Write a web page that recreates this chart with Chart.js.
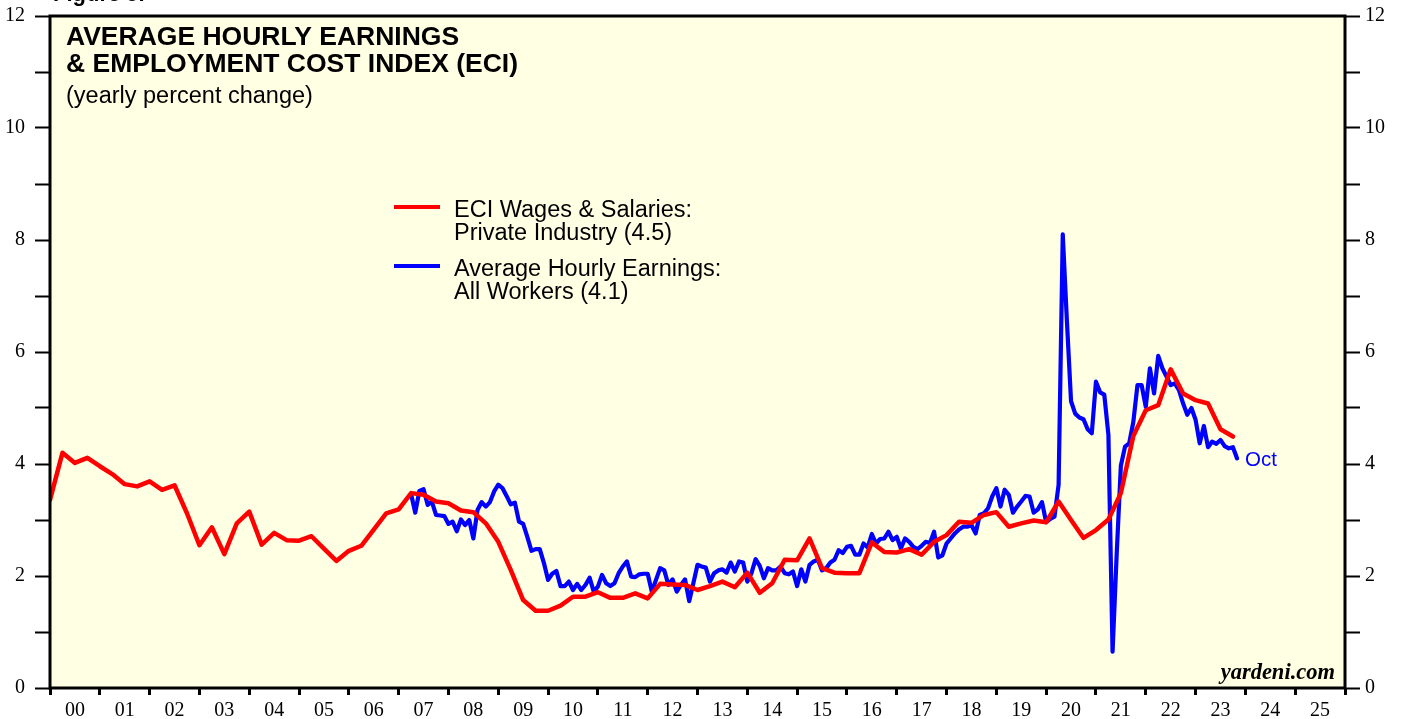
<!DOCTYPE html>
<html>
<head>
<meta charset="utf-8">
<script src="https://cdn.jsdelivr.net/npm/chart.js@4/dist/chart.umd.min.js"></script>
<style>
html,body{margin:0;padding:0;background:#ffffff;}
#wrap{width:1405px;height:719px;position:relative;}
canvas{display:block;}
</style>
</head>
<body>
<div id="wrap"><canvas id="c" width="1405" height="719"></canvas></div>
<script>
// ---------------- DATA ----------------
// ECI wages & salaries, private industry (y/y %), quarterly, plotted at quarter end
const eciStartYear = 2000.0;
const eciStep = 0.25;
const eciValues = [
  3.36, 4.20, 4.02, 4.11, 3.96, 3.82, 3.64, 3.60, 3.69, 3.54,
  3.62, 3.12, 2.55, 2.87, 2.39, 2.94, 3.15, 2.56, 2.77, 2.64,
  2.63, 2.71, 2.49, 2.27, 2.45, 2.54, 2.83, 3.12, 3.19, 3.48,
  3.45, 3.33, 3.30, 3.17, 3.14, 2.94, 2.61, 2.11, 1.57, 1.38,
  1.38, 1.47, 1.63, 1.63, 1.71, 1.61, 1.61, 1.69, 1.60, 1.86,
  1.85, 1.84, 1.75, 1.82, 1.90, 1.80, 2.06, 1.70, 1.87, 2.29,
  2.28, 2.67, 2.14, 2.06, 2.05, 2.05, 2.60, 2.43, 2.42, 2.48,
  2.38, 2.61, 2.73, 2.97, 2.95, 3.09, 3.14, 2.88, 2.94, 2.99,
  2.96, 3.33, 3.00, 2.68, 2.82, 3.01, 3.48, 4.50, 4.96, 5.05,
  5.69, 5.26, 5.14, 5.08, 4.62, 4.49
];

// Average hourly earnings, all workers (y/y %), monthly from Mar 2007, plotted at month end
const aheStartYear = 2007.25;
const aheStep = 1 / 12;
const aheValues = [
  3.46, 3.13, 3.52, 3.55, 3.27, 3.33, 3.09, 3.08, 3.07, 2.93,
  2.97, 2.80, 3.01, 2.91, 3.00, 2.67, 3.18, 3.32, 3.24, 3.32,
  3.51, 3.63, 3.57, 3.43, 3.28, 3.31, 2.97, 2.93, 2.70, 2.45,
  2.48, 2.48, 2.23, 1.93, 2.04, 2.09, 1.82, 1.82,
  1.90, 1.75, 1.86, 1.75, 1.84, 1.97, 1.72, 1.81, 2.02, 1.87,
  1.82, 1.87, 2.05, 2.17, 2.26, 1.99, 1.98, 2.03, 2.04, 2.04,
  1.72, 1.93, 2.14, 2.10, 1.84, 1.94, 1.72, 1.84, 1.94, 1.55,
  1.87, 2.20, 2.17, 2.15, 1.90, 2.05, 2.10, 2.12,
  2.06, 2.24, 2.08, 2.26, 2.24, 1.90, 2.05, 2.30, 2.18, 1.96,
  2.14, 2.10, 2.10, 2.17, 2.05, 2.03, 2.08, 1.82, 2.12, 1.90,
  2.20, 2.26, 2.29, 2.10, 2.14, 2.24, 2.29, 2.46, 2.41, 2.52,
  2.54, 2.38, 2.38, 2.58, 2.51, 2.75, 2.58, 2.66, 2.67,
  2.79, 2.64, 2.70, 2.49, 2.67, 2.61, 2.52, 2.48, 2.54, 2.61,
  2.59, 2.79, 2.33, 2.37, 2.58, 2.67, 2.76, 2.83, 2.88, 2.88,
  2.91, 2.76, 3.09, 3.12, 3.21, 3.42, 3.57, 3.24, 3.54, 3.45,
  3.13, 3.24, 3.33, 3.43, 3.42, 3.13, 3.19, 3.32, 2.96,
  3.02, 3.06, 3.63, 8.10, 6.55, 5.12, 4.90, 4.83, 4.80, 4.62,
  4.55, 5.47, 5.28, 5.24, 4.52, 0.65, 2.40, 3.97, 4.31, 4.37,
  4.75, 5.41, 5.41, 5.02, 5.71, 5.26, 5.93, 5.71, 5.56, 5.41,
  5.44, 5.32, 5.08, 4.88, 5.00, 4.79, 4.37, 4.68, 4.30, 4.40,
  4.36, 4.43, 4.32, 4.28, 4.30, 4.10
];

// Axis ticks / labels
const xFirstYear = 2000;
const xLastYear = 2026;
const xYearLabels = ['00','01','02','03','04','05','06','07','08','09','10','11','12',
                     '13','14','15','16','17','18','19','20','21','22','23','24','25'];
const yTickValues = [0,1,2,3,4,5,6,7,8,9,10,11,12];
const yLabelValues = [0,2,4,6,8,10,12];

const titleLines = ['AVERAGE HOURLY EARNINGS', '& EMPLOYMENT COST INDEX (ECI)'];
const subtitle = '(yearly percent change)';
const legendRed = ['ECI Wages & Salaries:', 'Private Industry (4.5)'];
const legendBlue = ['Average Hourly Earnings:', 'All Workers (4.1)'];
const lastLabel = 'Oct';
const sourceLabel = 'yardeni.com';

// ---------------- BUILD ----------------
const RED = '#ff0000';
const BLUE = '#0000ff';
const PLOT_BG = '#ffffe3';

const eciPoints = eciValues.map((v, i) => ({x: eciStartYear + i * eciStep, y: v}));
const ahePoints = aheValues.map((v, i) => ({x: aheStartYear + i * aheStep, y: v}));

const xTicks = [];
for (let yr = xFirstYear; yr <= xLastYear; yr++) {
  xTicks.push(yr);
  if (yr < xLastYear) xTicks.push(yr + 0.5);
}
function xLabel(v) {
  const k = Math.round((v - 0.5) - xFirstYear);
  if (Math.abs(v - Math.floor(v) - 0.5) < 1e-6 && k >= 0 && k < xYearLabels.length) return xYearLabels[k];
  return '';
}
const isWhole = v => Math.abs(v - Math.round(v)) < 1e-6;

const serif = '"Liberation Serif", "Times New Roman", Times, serif';
const sans = '"Liberation Sans", Arial, Helvetica, sans-serif';

const decor = {
  id: 'decor',
  beforeDraw(chart) {
    const {ctx, chartArea: a} = chart;
    ctx.save();
    ctx.fillStyle = '#ffffff';
    ctx.fillRect(0, 0, chart.width, chart.height);
    ctx.fillStyle = PLOT_BG;
    ctx.fillRect(a.left, a.top, a.right - a.left, a.bottom - a.top);
    ctx.restore();
  },
  afterDatasetsDraw(chart) {
    const {ctx, chartArea: a} = chart;
    ctx.save();
    // frame
    ctx.strokeStyle = '#000';
    ctx.lineWidth = 3;
    ctx.strokeRect(a.left, a.top, a.right - a.left, a.bottom - a.top);

    // cut-off figure caption at very top
    ctx.fillStyle = '#000';
    ctx.textAlign = 'left';
    ctx.textBaseline = 'alphabetic';
    ctx.font = 'bold 22px ' + sans;
    ctx.fillText('Figure 5.', 53, 1);

    // title
    ctx.font = 'bold 26.5px ' + sans;
    ctx.fillText(titleLines[0], 66, 45);
    ctx.fillText(titleLines[1], 66, 72);
    ctx.font = '23.5px ' + sans;
    ctx.fillText(subtitle, 66, 103);

    // legend
    ctx.lineCap = 'butt';
    ctx.lineWidth = 4;
    ctx.strokeStyle = RED;
    ctx.beginPath(); ctx.moveTo(394, 207); ctx.lineTo(440, 207); ctx.stroke();
    ctx.strokeStyle = BLUE;
    ctx.beginPath(); ctx.moveTo(394, 266); ctx.lineTo(440, 266); ctx.stroke();
    ctx.fillStyle = '#000';
    ctx.font = '23.5px ' + sans;
    ctx.fillText(legendRed[0], 454, 217);
    ctx.fillText(legendRed[1], 454, 240);
    ctx.fillText(legendBlue[0], 454, 276);
    ctx.fillText(legendBlue[1], 454, 299);

    // last-month label
    ctx.fillStyle = BLUE;
    ctx.font = '20.5px ' + sans;
    ctx.fillText(lastLabel, 1245, 466);

    // source
    ctx.fillStyle = '#000';
    ctx.textAlign = 'right';
    ctx.font = 'italic bold 22.5px ' + serif;
    ctx.fillText(sourceLabel, 1335, 679);
    ctx.restore();
  }
};

const yAxisCommon = (pos, width) => ({
  type: 'linear',
  position: pos,
  min: 0,
  max: 12,
  afterBuildTicks: s => { s.ticks = yTickValues.map(v => ({value: v})); },
  afterFit: s => { s.width = width; s.paddingTop = 0; s.paddingBottom = 0; },
  ticks: {
    autoSkip: false,
    padding: pos === 'left' ? 10 : 5,
    color: '#000',
    font: {family: serif, size: 20},
    callback: v => (yLabelValues.includes(v) ? String(v) : '')
  },
  grid: {
    drawOnChartArea: false,
    drawTicks: true,
    tickLength: 15,
    tickWidth: 2,
    tickColor: '#000'
  },
  border: {display: false}
});

new Chart(document.getElementById('c'), {
  type: 'line',
  data: {
    datasets: [
      {
        label: 'ECI Wages & Salaries: Private Industry',
        data: eciPoints,
        borderColor: RED,
        backgroundColor: RED,
        borderWidth: 4.5,
        pointRadius: 0,
        tension: 0,
        borderJoinStyle: 'round',
        borderCapStyle: 'round',
        yAxisID: 'y'
      },
      {
        label: 'Average Hourly Earnings: All Workers',
        data: ahePoints,
        borderColor: BLUE,
        backgroundColor: BLUE,
        borderWidth: 4.2,
        pointRadius: 0,
        tension: 0,
        borderJoinStyle: 'round',
        borderCapStyle: 'round',
        yAxisID: 'y'
      }
    ]
  },
  options: {
    responsive: false,
    animation: false,
    devicePixelRatio: 1,
    layout: {padding: {top: 16, left: 0, right: 0, bottom: 0}},
    plugins: {
      legend: {display: false},
      title: {display: false},
      tooltip: {enabled: false}
    },
    scales: {
      x: {
        type: 'linear',
        position: 'bottom',
        min: xFirstYear,
        max: xLastYear,
        afterBuildTicks: s => { s.ticks = xTicks.map(v => ({value: v})); },
        afterFit: s => { s.height = 31; s.paddingLeft = 0; s.paddingRight = 0; },
        ticks: {
          autoSkip: false,
          maxRotation: 0,
          minRotation: 0,
          padding: 4,
          color: '#000',
          font: {family: serif, size: 20},
          callback: v => xLabel(v)
        },
        grid: {
          drawOnChartArea: false,
          drawTicks: true,
          tickLength: 7,
          tickWidth: c => (c.tick && isWhole(c.tick.value) ? 3 : 0),
          tickColor: c => (c.tick && isWhole(c.tick.value) ? '#000' : 'rgba(0,0,0,0)')
        },
        border: {display: false}
      },
      y: yAxisCommon('left', 50),
      y2: yAxisCommon('right', 60)
    }
  },
  plugins: [decor]
});
</script>
</body>
</html>
